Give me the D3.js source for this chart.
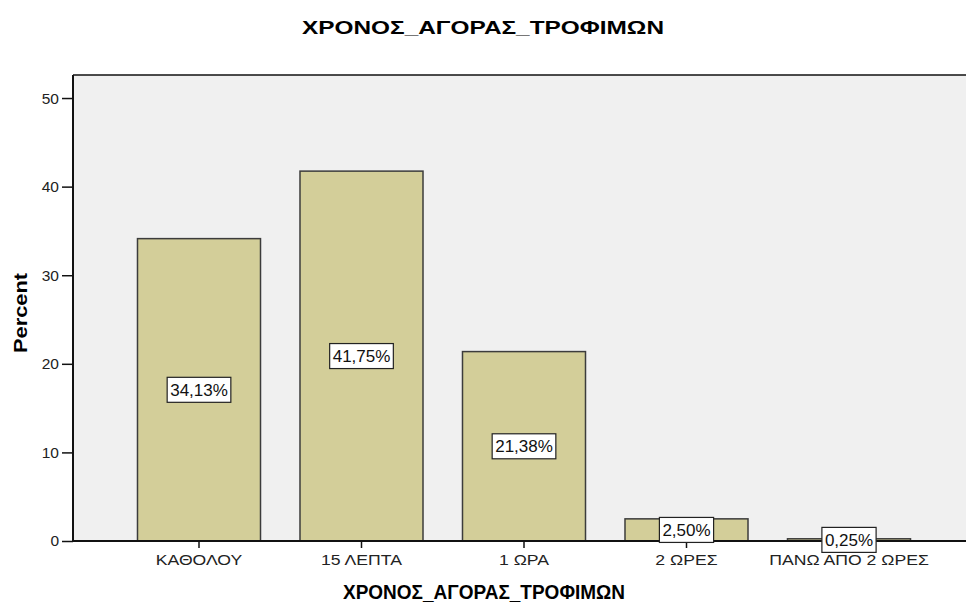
<!DOCTYPE html>
<html>
<head>
<meta charset="utf-8">
<script src="https://cdn.jsdelivr.net/npm/d3@7"></script>
<style>
  body { margin: 0; background: #fff; }
  text { font-family: "Liberation Sans", Arial, sans-serif; }
</style>
</head>
<body>
<svg id="chart" width="966" height="603"></svg>
<script>
const categories = ["ΚΑΘΟΛΟΥ", "15 ΛΕΠΤΑ", "1 ΩΡΑ", "2 ΩΡΕΣ", "ΠΑΝΩ ΑΠΟ 2 ΩΡΕΣ"];
const percents = [34.13, 41.75, 21.38, 2.50, 0.25];
const yTicks = [0, 10, 20, 30, 40, 50];
const title = "ΧΡΟΝΟΣ_ΑΓΟΡΑΣ_ΤΡΟΦΙΜΩΝ";

const data = categories.map((c, i) => ({ cat: c, value: percents[i] }));

const svg = d3.select("#chart");
const frame = { left: 73, top: 75, bottom: 541, right: 970 };

const x = d3
  .scaleBand()
  .domain(categories)
  .range([117.75, 930.25])
  .paddingInner(0.243)
  .paddingOuter(0.1215);

const y = d3.scaleLinear().domain([0, 52.6]).range([frame.bottom, frame.top]);

// plot background
svg
  .append("rect")
  .attr("x", frame.left)
  .attr("y", frame.top)
  .attr("width", frame.right - frame.left)
  .attr("height", frame.bottom - frame.top)
  .attr("fill", "#f0f0f0");

// bars
svg
  .append("g")
  .selectAll("rect")
  .data(data)
  .join("rect")
  .attr("x", (d) => x(d.cat))
  .attr("y", (d) => y(d.value))
  .attr("width", x.bandwidth())
  .attr("height", (d) => y(0) - y(d.value))
  .attr("fill", "#d3ce99")
  .attr("stroke", "#3c3c3c")
  .attr("stroke-width", 1.5);

// top frame line
svg.append("line").attr("x1", frame.left).attr("x2", frame.right).attr("y1", frame.top).attr("y2", frame.top)
  .attr("stroke", "#111").attr("stroke-width", 1.5);

const yAxis = (g) =>
  g
    .attr("transform", `translate(${frame.left},0)`)
    .call(d3.axisLeft(y).tickValues(yTicks).tickSize(11).tickPadding(3))
    .call((g) => g.select(".domain").attr("d", `M0,${frame.top}V${frame.bottom}`).attr("stroke", "#111").attr("stroke-width", 2))
    .call((g) => g.selectAll(".tick line").attr("stroke", "#111").attr("stroke-width", 1.5))
    .call((g) => g.selectAll(".tick text").attr("fill", "#222").style("font-size", "15.5px").style("font-family", "Liberation Sans, Arial, sans-serif"));

const xAxis = (g) =>
  g
    .attr("transform", `translate(0,${frame.bottom})`)
    .call(d3.axisBottom(x).tickSize(7).tickPadding(7))
    .call((g) => g.select(".domain").attr("d", `M${frame.left},0H${frame.right}`).attr("stroke", "#111").attr("stroke-width", 2))
    .call((g) => g.selectAll(".tick line").attr("stroke", "#111").attr("stroke-width", 1.5))
    .call((g) =>
      g
        .selectAll(".tick text")
        .attr("fill", "#222")
        .attr("transform", "scale(1.26,1)")
        .style("font-size", "14px")
        .style("font-family", "Liberation Sans, Arial, sans-serif")
    );

svg.append("g").call(yAxis);
svg.append("g").call(xAxis);

// value labels
const fmt = (v) => d3.format(".2f")(v).replace(".", ",") + "%";
const labels = svg
  .append("g")
  .selectAll("g")
  .data(data)
  .join("g")
  .attr("transform", (d) => `translate(${x(d.cat) + x.bandwidth() / 2},${y(d.value / 2)})`);

labels
  .append("text")
  .attr("text-anchor", "middle")
  .attr("dy", "0.36em")
  .style("font-size", "17px")
  .attr("fill", "#111")
  .text((d) => fmt(d.value));

labels.each(function () {
  const g = d3.select(this);
  const bb = g.select("text").node().getBBox();
  g.insert("rect", "text")
    .attr("x", bb.x - 3)
    .attr("y", -12.5)
    .attr("width", bb.width + 6)
    .attr("height", 25)
    .attr("fill", "#fff")
    .attr("stroke", "#222")
    .attr("stroke-width", 1.2);
});

// titles
svg
  .append("text")
  .attr("x", 483)
  .attr("y", 34)
  .attr("text-anchor", "middle")
  .attr("textLength", 362)
  .attr("lengthAdjust", "spacingAndGlyphs")
  .style("font-size", "18px")
  .style("font-weight", "bold")
  .text(title);

svg
  .append("text")
  .attr("x", 484)
  .attr("y", 599)
  .attr("text-anchor", "middle")
  .attr("textLength", 282)
  .attr("lengthAdjust", "spacingAndGlyphs")
  .style("font-size", "21px")
  .style("font-weight", "bold")
  .text(title);

svg
  .append("text")
  .attr("transform", "translate(27,313) rotate(-90)")
  .attr("text-anchor", "middle")
  .attr("textLength", 80)
  .attr("lengthAdjust", "spacingAndGlyphs")
  .style("font-size", "19px")
  .style("font-weight", "bold")
  .text("Percent");
</script>
</body>
</html>
